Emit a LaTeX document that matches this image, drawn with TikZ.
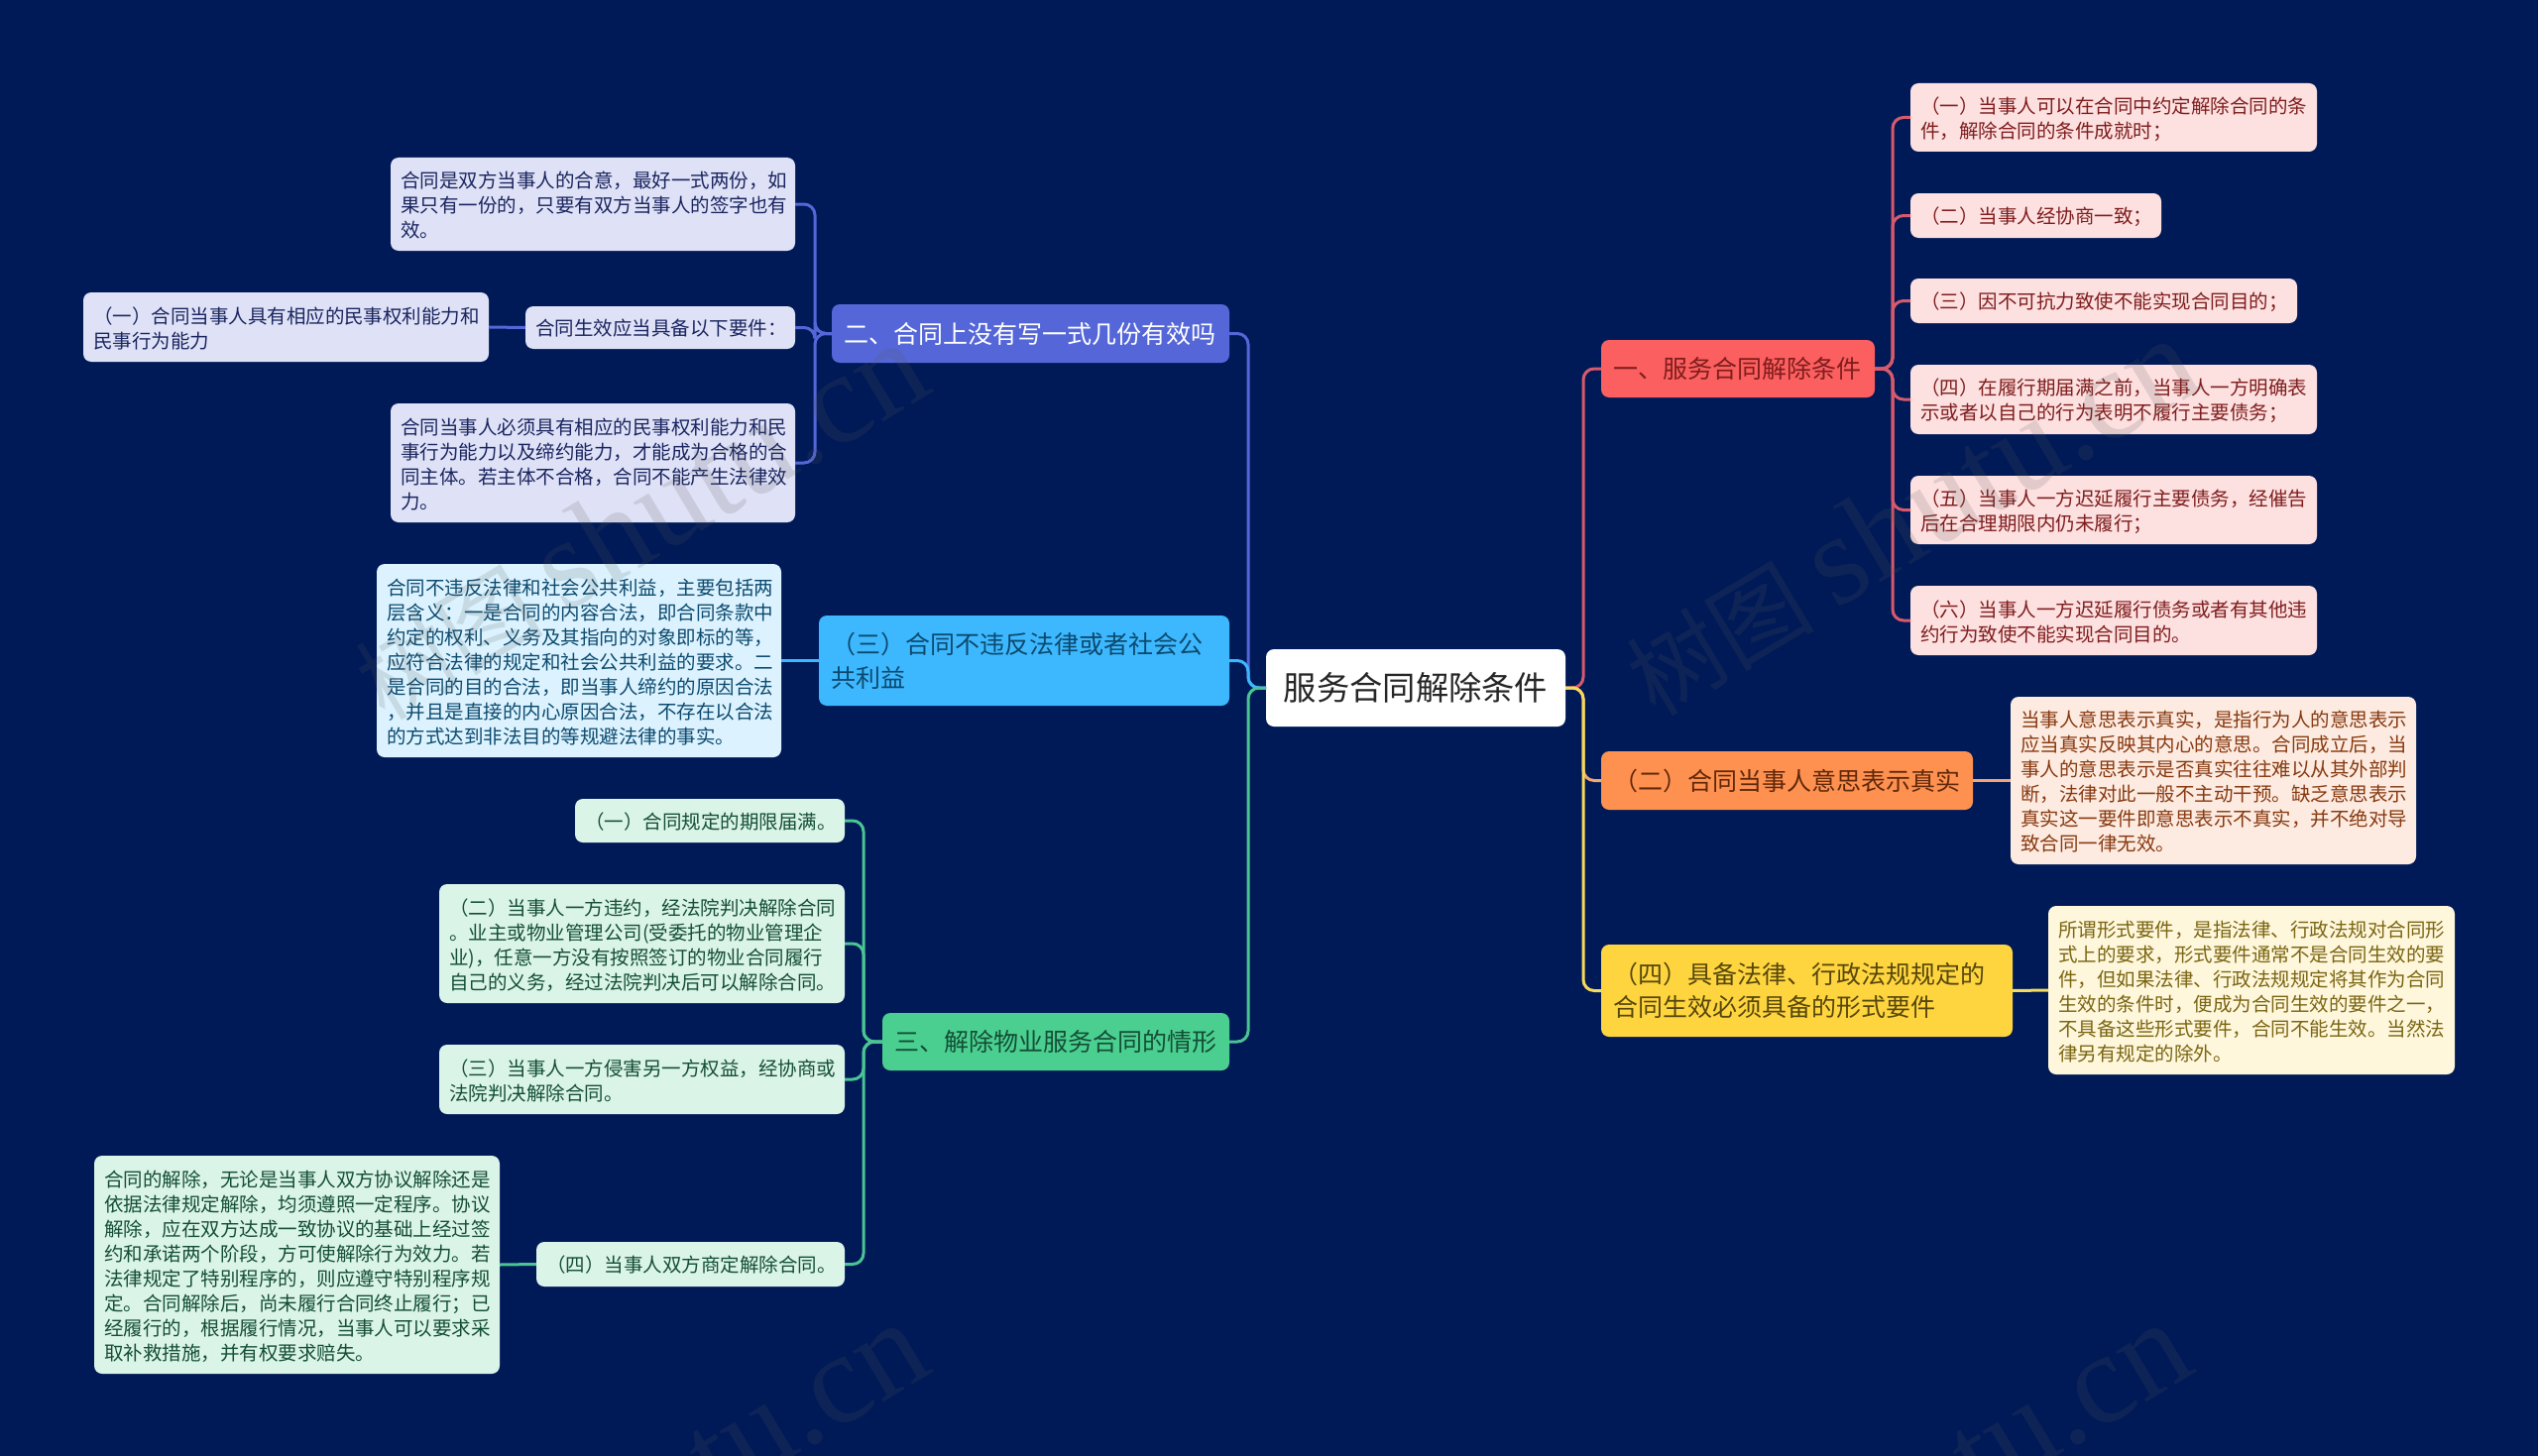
\documentclass[tikz,border=0pt]{standalone}
\usepackage{fontspec}
\setmainfont{Noto Sans CJK SC}
\newfontfamily\wmfont{Liberation Serif}
\definecolor{bgc}{HTML}{001A57}
\definecolor{redF}{HTML}{FB5F5F}\definecolor{redL}{HTML}{FDE0E0}\definecolor{redT}{HTML}{7F1D1D}\definecolor{redC}{HTML}{D65A6C}
\definecolor{orgF}{HTML}{FF9150}\definecolor{orgL}{HTML}{FDEBE1}\definecolor{orgT}{HTML}{87390F}\definecolor{orgC}{HTML}{F5A56F}
\definecolor{yelF}{HTML}{FFD53F}\definecolor{yelL}{HTML}{FFF7DC}\definecolor{yelT}{HTML}{7A6512}\definecolor{yelC}{HTML}{F6DA5C}
\definecolor{bluF}{HTML}{5567D8}\definecolor{bluL}{HTML}{DFE2F6}\definecolor{bluT}{HTML}{1A2560}\definecolor{bluC}{HTML}{5567D8}
\definecolor{skyF}{HTML}{3DB8FF}\definecolor{skyL}{HTML}{DCF3FF}\definecolor{skyT}{HTML}{0C4A6E}\definecolor{skyC}{HTML}{3DB8FF}
\definecolor{grnF}{HTML}{4BCF90}\definecolor{grnL}{HTML}{DBF4E8}\definecolor{grnT}{HTML}{134E36}\definecolor{grnC}{HTML}{4BC494}
\tikzset{
  anybox/.style={rectangle,rounded corners=8pt,align=left,inner ysep=0pt,outer sep=0pt,anchor=center},
  leafbox/.style={anybox,inner xsep=10pt,font=\fontsize{19.5}{25}\selectfont,execute at end node={\par\kern-3pt}},
  branchbox/.style={anybox,inner xsep=12pt,font=\fontsize{25}{33.7}\selectfont},
  rootbox/.style={anybox,align=center,fill=white,text=black!85,inner xsep=14pt,font=\fontsize{33.3}{40}\selectfont},
  link/.style={line width=3pt,rounded corners=11pt},
  redleaf/.style={leafbox,fill=redL,text=redT},
  orgleaf/.style={leafbox,fill=orgL,text=orgT},
  yelleaf/.style={leafbox,fill=yelL,text=yelT},
  bluleaf/.style={leafbox,fill=bluL,text=bluT},
  skyleaf/.style={leafbox,fill=skyL,text=skyT},
  grnleaf/.style={leafbox,fill=grnL,text=grnT},
  watermark/.style={rotate=31,text=black!65,text opacity=.16,font=\fontsize{95}{128}\selectfont,anchor=center}
}
\newcommand{\mmbox}[8]{%
  \pgfmathsetmacro{\mmw}{#5-#3}%
  \pgfmathsetmacro{\mmh}{#6-#4}%
  \pgfmathsetmacro{\mmcx}{(#5+#3)/2}%
  \pgfmathsetmacro{\mmcy}{(#6+#4)/2}%
  \pgfmathsetmacro{\mmtw}{#5-#3-2*#7}%
  \node[#2,text width=\mmtw pt,minimum width=\mmw pt,minimum height=\mmh pt] (#1) at (\mmcx,\mmcy) {#8};}
\newcommand{\wmtext}{树图 {\wmfont\fontsize{130}{130}\selectfont shutu.cn}}
\begin{document}
\begin{tikzpicture}[x=1pt,y=-1pt]
\useasboundingbox (0,0) rectangle (2560,1469);
\fill[bgc] (0,0) rectangle (2560,1469);
% spine positions
\coordinate (spR) at (1597,0);
\coordinate (spL) at (1259,0);
\coordinate (spA) at (1909,0);
\coordinate (spB) at (822,0);
\coordinate (spC) at (871,0);
% root
\mmbox{root}{rootbox}{1277}{655}{1579}{733}{14}{服务合同解除条件}
% branches
\mmbox{bA}{branchbox,fill=redF,text=redT}{1615}{343}{1891}{401}{12}{一、服务合同解除条件}
\mmbox{bB}{branchbox,fill=orgF,text=orgT!70!black}{1615}{758}{1990}{817}{12}{（二）合同当事人意思表示真实}
\mmbox{bC}{branchbox,fill=yelF,text=yelT!70!black}{1615}{953}{2030}{1046}{12}{（四）具备法律、行政法规规定的\\合同生效必须具备的形式要件}
\mmbox{bD}{branchbox,fill=bluF,text=white}{839}{307}{1240}{366}{12}{二、合同上没有写一式几份有效吗}
\mmbox{bE}{branchbox,fill=skyF,text=skyT}{826}{621}{1240}{712}{12}{（三）合同不违反法律或者社会公\\共利益}
\mmbox{bF}{branchbox,fill=grnF,text=grnT}{890}{1022}{1240}{1080}{12}{三、解除物业服务合同的情形}
% leaves: red
\mmbox{r1}{redleaf}{1927}{84}{2337}{153}{10}{（一）当事人可以在合同中约定解除合同的条\\件，解除合同的条件成就时；}
\mmbox{r2}{redleaf}{1927}{195}{2180}{240}{10}{（二）当事人经协商一致；}
\mmbox{r3}{redleaf}{1927}{281}{2317}{326}{10}{（三）因不可抗力致使不能实现合同目的；}
\mmbox{r4}{redleaf}{1927}{368}{2337}{438}{10}{（四）在履行期届满之前，当事人一方明确表\\示或者以自己的行为表明不履行主要债务；}
\mmbox{r5}{redleaf}{1927}{480}{2337}{549}{10}{（五）当事人一方迟延履行主要债务，经催告\\后在合理期限内仍未履行；}
\mmbox{r6}{redleaf}{1927}{591}{2337}{661}{10}{（六）当事人一方迟延履行债务或者有其他违\\约行为致使不能实现合同目的。}
% leaves: orange, yellow
\mmbox{o1}{orgleaf}{2028}{703}{2437}{872}{10}{当事人意思表示真实，是指行为人的意思表示\\应当真实反映其内心的意思。合同成立后，当\\事人的意思表示是否真实往往难以从其外部判\\断，法律对此一般不主动干预。缺乏意思表示\\真实这一要件即意思表示不真实，并不绝对导\\致合同一律无效。}
\mmbox{y1}{yelleaf}{2066}{914}{2476}{1084}{10}{所谓形式要件，是指法律、行政法规对合同形\\式上的要求，形式要件通常不是合同生效的要\\件，但如果法律、行政法规规定将其作为合同\\生效的条件时，便成为合同生效的要件之一，\\不具备这些形式要件，合同不能生效。当然法\\律另有规定的除外。}
% leaves: blue
\mmbox{d1}{bluleaf}{394}{159}{802}{253}{10}{合同是双方当事人的合意，最好一式两份，如\\果只有一份的，只要有双方当事人的签字也有\\效。}
\mmbox{d2}{bluleaf}{530}{309}{802}{352}{10}{合同生效应当具备以下要件：}
\mmbox{d3}{bluleaf}{84}{295}{493}{365}{10}{（一）合同当事人具有相应的民事权利能力和\\民事行为能力}
\mmbox{d4}{bluleaf}{394}{407}{802}{527}{10}{合同当事人必须具有相应的民事权利能力和民\\事行为能力以及缔约能力，才能成为合格的合\\同主体。若主体不合格，合同不能产生法律效\\力。}
% leaf: sky
\mmbox{s1}{skyleaf}{380}{569}{788}{764}{10}{合同不违反法律和社会公共利益，主要包括两\\层含义：一是合同的内容合法，即合同条款中\\约定的权利、义务及其指向的对象即标的等，\\应符合法律的规定和社会公共利益的要求。二\\是合同的目的合法，即当事人缔约的原因合法\\，并且是直接的内心原因合法，不存在以合法\\的方式达到非法目的等规避法律的事实。}
% leaves: green
\mmbox{m1}{grnleaf}{580}{806}{852}{850}{10}{（一）合同规定的期限届满。}
\mmbox{m2}{grnleaf}{443}{892}{852}{1012}{10}{（二）当事人一方违约，经法院判决解除合同\\。业主或物业管理公司(受委托的物业管理企\\业)，任意一方没有按照签订的物业合同履行\\自己的义务，经过法院判决后可以解除合同。}
\mmbox{m3}{grnleaf}{443}{1054}{852}{1124}{10}{（三）当事人一方侵害另一方权益，经协商或\\法院判决解除合同。}
\mmbox{m4}{grnleaf}{541}{1253}{852}{1298}{10}{（四）当事人双方商定解除合同。}
\mmbox{m5}{grnleaf}{95}{1166}{504}{1386}{10}{合同的解除，无论是当事人双方协议解除还是\\依据法律规定解除，均须遵照一定程序。协议\\解除，应在双方达成一致协议的基础上经过签\\约和承诺两个阶段，方可使解除行为效力。若\\法律规定了特别程序的，则应遵守特别程序规\\定。合同解除后，尚未履行合同终止履行；已\\经履行的，根据履行情况，当事人可以要求采\\取补救措施，并有权要求赔失。}
% connectors: root to branches
\draw[link,redC] (root.east) -- (spR |- root.east) -- (spR |- bA.west) -- (bA.west);
\draw[link,orgC] (root.east) -- (spR |- root.east) -- (spR |- bB.west) -- (bB.west);
\draw[link,yelC] (root.east) -- (spR |- root.east) -- (spR |- bC.west) -- (bC.west);
\draw[link,bluC] (root.west) -- (spL |- root.west) -- (spL |- bD.east) -- (bD.east);
\draw[link,skyC] (root.west) -- (spL |- root.west) -- (spL |- bE.east) -- (bE.east);
\draw[link,grnC] (root.west) -- (spL |- root.west) -- (spL |- bF.east) -- (bF.east);
% connectors: branch to leaves
\foreach \n in {r1,r2,r3,r4,r5,r6}{
  \draw[link,redC] (bA.east) -- (spA |- bA.east) -- (spA |- \n.west) -- (\n.west);}
\draw[link,orgC] (bB.east) -- (o1.west);
\draw[link,yelC] (bC.east) -- (y1.west);
\foreach \n in {d1,d2,d4}{
  \draw[link,bluC] (bD.west) -- (spB |- bD.west) -- (spB |- \n.east) -- (\n.east);}
\draw[link,bluC] (d2.west) -- (d3.east);
\draw[link,skyC] (bE.west) -- (s1.east);
\foreach \n in {m1,m2,m3,m4}{
  \draw[link,grnC] (bF.west) -- (spC |- bF.west) -- (spC |- \n.east) -- (\n.east);}
\draw[link,grnC] (m4.west) -- (m5.east);
% watermarks
\node[watermark] (w1) at (645,526) {\wmtext};
\node[watermark] (w2) at (1927,522) {\wmtext};
\node[watermark] (w3) at (645,1515) {\wmtext};
\node[watermark] (w4) at (1919,1515) {\wmtext};
\end{tikzpicture}
\end{document}
